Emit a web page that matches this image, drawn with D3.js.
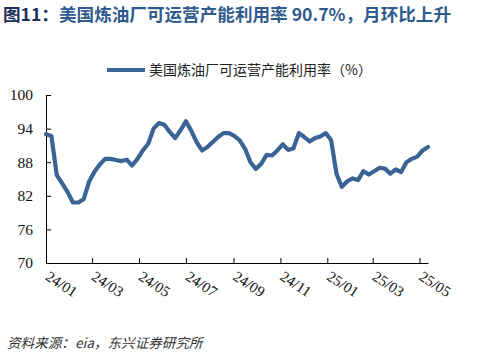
<!DOCTYPE html>
<html>
<head>
<meta charset="utf-8">
<script src="https://cdn.jsdelivr.net/npm/d3@7"></script>
<style>
  html, body { margin: 0; padding: 0; background: #fff; }
  svg { display: block; }
  .serif { font-family: "Liberation Serif", "Times New Roman", serif; }
</style>
</head>
<body>
<svg id="chart" width="477" height="358"></svg>
<script>
// ---- data ----
const titleDark = "图11：";
const titleRest = "美国炼油厂可运营产能利用率 90.7%，月环比上升";
const seriesName = "美国炼油厂可运营产能利用率（%）";
const sourceText = "资料来源：eia，东兴证券研究所";
const firstWeek = "2024-01-05";   // weekly data, week ending dates
const lastWeek = "2025-05-16";
const utilization = [
  93.0, 92.7, 85.7, 84.2, 82.7, 80.8, 80.8, 81.4, 84.5, 86.3,
  87.6, 88.6, 88.6, 88.4, 88.2, 88.45, 87.4, 88.6, 90.1, 91.3,
  94.0, 95.0, 94.7, 93.4, 92.3, 93.7, 95.3, 93.6, 91.6, 90.1,
  90.7, 91.6, 92.5, 93.2, 93.2, 92.7, 91.9, 90.4, 88.0, 86.8,
  87.7, 89.3, 89.2, 90.1, 91.2, 90.2, 90.5, 93.2, 92.5, 91.7,
  92.3, 92.6, 93.2, 91.9, 85.9, 83.6, 84.6, 85.1, 84.8, 86.4,
  85.8, 86.4, 87.0, 86.85, 85.95, 86.7, 86.25, 88.0, 88.6, 89.0,
  90.1, 90.7
];
const xTickLabels = ["24/01","24/03","24/05","24/07","24/09","24/11","25/01","25/03","25/05"];
const yTicks = [70, 76, 82, 88, 94, 100];

// ---- build ----
const svg = d3.select("#chart");
const parse = d3.utcParse("%Y-%m-%d");
const start = parse(firstWeek), end = parse(lastWeek);
const dates = utilization.map((_, i) => d3.utcDay.offset(start, 7 * i));
const tickDates = xTickLabels.map(s => {
  const [yy, mm] = s.split("/").map(Number);
  return new Date(Date.UTC(2000 + yy, mm - 1, 5));
});

const x = d3.scaleUtc().domain([start, end]).range([46, 428]);
const y = d3.scaleLinear().domain([70, 100]).range([263, 95]);

// title
const t = svg.append("text")
  .attr("x", 3).attr("y", 21)
  .style("font-family", "'Noto Sans CJK SC', sans-serif")
  .attr("font-size", 17.6).attr("font-weight", "bold");
t.append("tspan").attr("fill", "#1c2f5c").text(titleDark);
t.append("tspan").attr("fill", "#2f5a8e").text(titleRest);

// legend
svg.append("line")
  .attr("x1", 107).attr("x2", 145).attr("y1", 70).attr("y2", 70)
  .attr("stroke", "#3a6396").attr("stroke-width", 4);
svg.append("text")
  .attr("x", 149).attr("y", 75)
  .style("font-family", "'Noto Sans CJK SC', sans-serif")
  .attr("font-size", 14).attr("fill", "#222")
  .text(seriesName);

// y axis
const yAxis = svg.append("g").attr("transform", "translate(46,0)")
  .call(d3.axisLeft(y).tickValues(yTicks).tickSizeInner(-5).tickSizeOuter(0).tickPadding(13));
yAxis.attr("font-family", null);
yAxis.select(".domain").attr("stroke", "#000");
yAxis.selectAll(".tick line").attr("stroke", "#000");
yAxis.selectAll("text")
  .classed("serif", true)
  .style("font-family", "'Liberation Serif', 'Times New Roman', serif")
  .attr("font-size", 15.5).attr("fill", "#111");

// x axis
const xAxis = svg.append("g").attr("transform", "translate(0,263)")
  .call(d3.axisBottom(x).tickValues(tickDates).tickSizeInner(-5).tickSizeOuter(0)
    .tickFormat((d, i) => xTickLabels[i]));
xAxis.attr("font-family", null);
xAxis.select(".domain").attr("stroke", "#000");
xAxis.selectAll(".tick line").attr("stroke", "#000");
xAxis.selectAll("text")
  .classed("serif", true)
  .style("font-family", "'Liberation Serif', 'Times New Roman', serif")
  .attr("font-size", 15).attr("fill", "#111")
  .attr("text-anchor", "start")
  .attr("dy", null).attr("y", 0)
  .attr("transform", "translate(-2,16) rotate(33)");

// line
const line = d3.line()
  .x((d, i) => x(dates[i]))
  .y(d => y(d));
svg.append("path")
  .datum(utilization)
  .attr("fill", "none")
  .attr("stroke", "#3a6396")
  .attr("stroke-width", 4.2)
  .attr("stroke-linejoin", "round")
  .attr("stroke-linecap", "round")
  .attr("d", line);

// source
svg.append("text")
  .attr("x", 7).attr("y", 348)
  .style("font-family", "'Noto Sans CJK SC', sans-serif")
  .attr("font-size", 13.6).attr("font-style", "italic").attr("fill", "#333")
  .text(sourceText);
</script>
</body>
</html>
